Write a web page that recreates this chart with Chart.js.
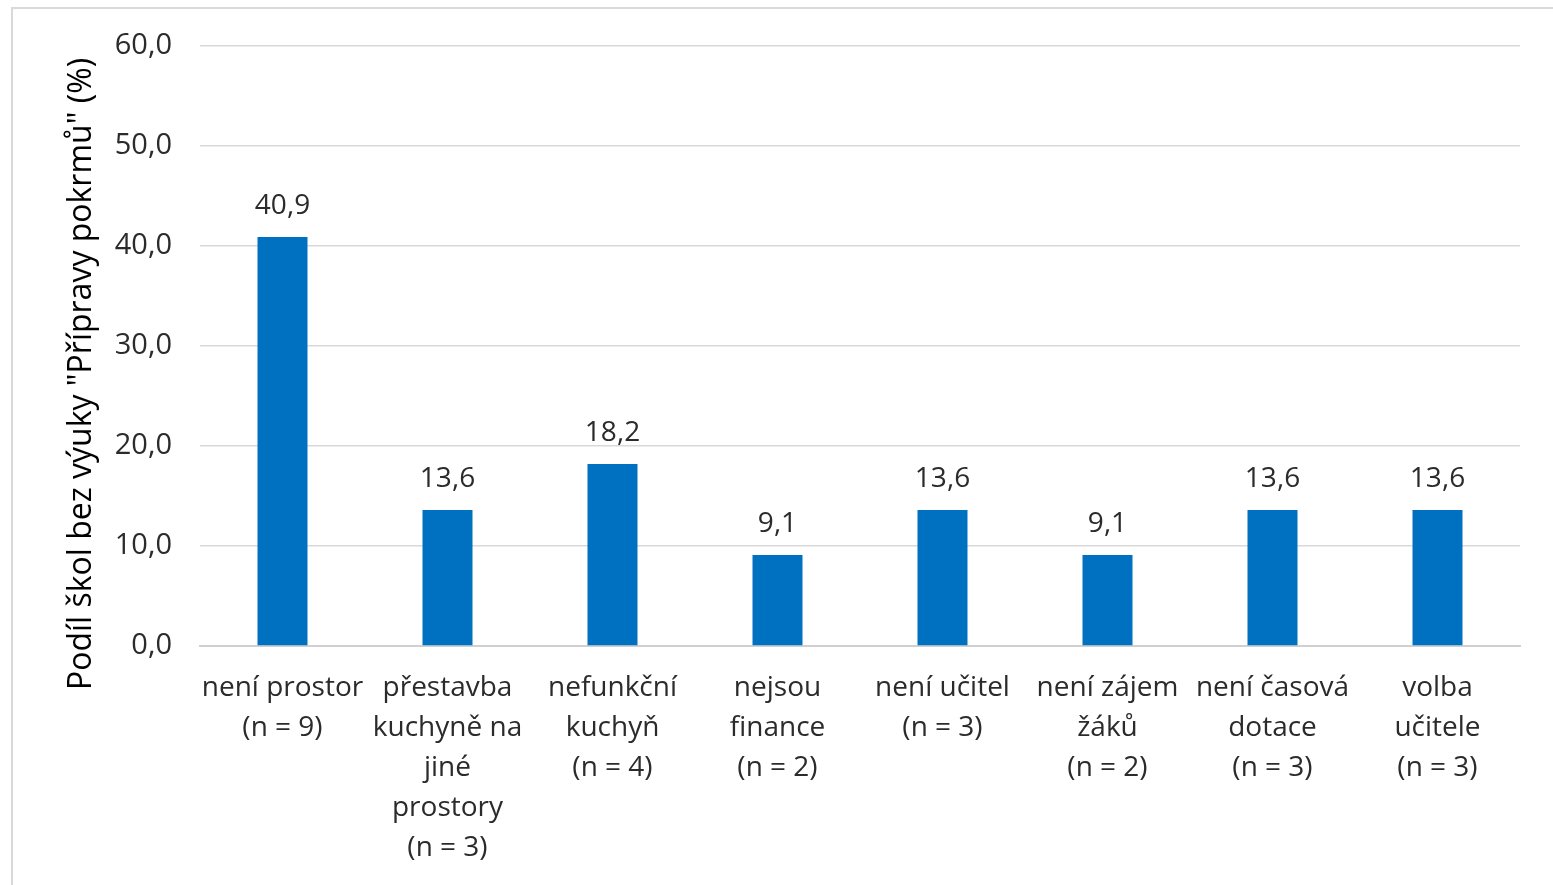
<!DOCTYPE html>
<html lang="cs">
<head>
<meta charset="utf-8">
<title>Podíl škol bez výuky Přípravy pokrmů</title>
<script src="https://cdn.jsdelivr.net/npm/chart.js@4.4.1/dist/chart.umd.min.js"></script>
<style>
  html, body { margin: 0; padding: 0; background: #fff; }
  #wrap { width: 1553px; height: 885px; position: relative; }
</style>
</head>
<body>
<div id="wrap"><canvas id="chart" width="1553" height="885"></canvas></div>
<script>
const categories = [
  ["není prostor", "(n = 9)"],
  ["přestavba", "kuchyně na", "jiné", "prostory", "(n = 3)"],
  ["nefunkční", "kuchyň", "(n = 4)"],
  ["nejsou", "finance", "(n = 2)"],
  ["není učitel", "(n = 3)"],
  ["není zájem", "žáků", "(n = 2)"],
  ["není časová", "dotace", "(n = 3)"],
  ["volba", "učitele", "(n = 3)"]
];
const shares = [40.9, 13.6, 18.2, 9.1, 13.6, 9.1, 13.6, 13.6];
const yTicks = [0, 10, 20, 30, 40, 50, 60];
const yTitle = "Podíl škol bez výuky \"Přípravy pokrmů\" (%)";

const FONT = "'Open Sans', 'Noto Sans', sans-serif";
const TEXT = "#2b2b2b";

function fmt(v) {
  return Number(v).toFixed(1).replace(".", ",");
}

// value labels above the bars
const barLabels = {
  id: "barLabels",
  afterDatasetsDraw(chart) {
    const ctx = chart.ctx;
    const meta = chart.getDatasetMeta(0);
    ctx.save();
    ctx.font = "28px " + FONT;
    ctx.fillStyle = TEXT;
    ctx.textAlign = "center";
    ctx.textBaseline = "alphabetic";
    meta.data.forEach((bar, i) => {
      ctx.fillText(fmt(shares[i]), bar.x, bar.y - 23);
    });
    ctx.restore();
  }
};

// y axis title, sits a bit below the middle of the plot like the original
const axisTitle = {
  id: "axisTitle",
  afterDraw(chart) {
    const ctx = chart.ctx;
    const area = chart.chartArea;
    ctx.save();
    ctx.translate(82, (area.top + area.bottom) / 2 + 28);
    ctx.rotate(-Math.PI / 2);
    ctx.font = "32px " + FONT;
    ctx.fillStyle = "#000000";
    ctx.textAlign = "center";
    ctx.textBaseline = "middle";
    ctx.fillText(yTitle, 0, 0);
    ctx.restore();
  }
};

// light frame round the chart
const frame = {
  id: "frame",
  beforeDraw(chart) {
    const ctx = chart.ctx;
    ctx.save();
    ctx.strokeStyle = "#d9d9d9";
    ctx.lineWidth = 2;
    ctx.beginPath();
    ctx.moveTo(12, chart.height);
    ctx.lineTo(12, 8);
    ctx.lineTo(chart.width, 8);
    ctx.stroke();
    ctx.restore();
  }
};

new Chart(document.getElementById("chart"), {
  type: "bar",
  data: {
    labels: categories,
    datasets: [{
      data: shares,
      backgroundColor: "#0070C0",
      borderWidth: 0,
      categoryPercentage: 1,
      barPercentage: 0.303
    }]
  },
  options: {
    responsive: false,
    animation: false,
    layout: { padding: { left: 62, top: 46, right: 33, bottom: 0 } },
    plugins: {
      legend: { display: false },
      tooltip: { enabled: false }
    },
    scales: {
      x: {
        grid: { display: false, drawTicks: false },
        border: { display: true, color: "#d0d0d0", width: 2 },
        ticks: {
          autoSkip: false,
          maxRotation: 0,
          minRotation: 0,
          padding: 22,
          color: TEXT,
          font: { family: FONT, size: 28, lineHeight: 1.43 }
        },
        afterFit(scale) { scale.height = 239; }
      },
      y: {
        min: yTicks[0],
        max: yTicks[yTicks.length - 1],
        afterBuildTicks(scale) {
          scale.ticks = yTicks.map(v => ({ value: v }));
        },
        grid: { color: "#d9d9d9", lineWidth: 1.5, drawTicks: false },
        border: { display: false },
        ticks: {
          padding: 28,
          color: TEXT,
          font: { family: FONT, size: 29 },
          callback: v => fmt(v)
        },
        title: { display: false },
        afterFit(scale) { scale.width = 138; }
      }
    }
  },
  plugins: [frame, barLabels, axisTitle]
});
</script>
</body>
</html>
